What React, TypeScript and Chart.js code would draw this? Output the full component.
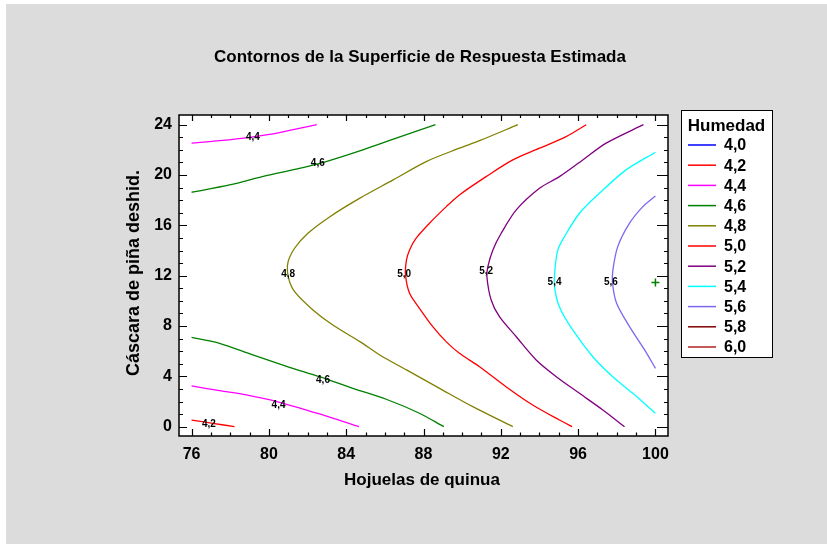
import React, { useEffect, useRef } from "react";
import { Chart, registerables } from "chart.js";

Chart.register(...registerables);

// ---- data ----
const chartTitle = "Contornos de la Superficie de Respuesta Estimada";
const xTitle = "Hojuelas de quinua";
const yTitle = "Cáscara de piña deshid.";
const legendTitle = "Humedad";
const xTicks = [76, 80, 84, 88, 92, 96, 100];
const yTicks = [0, 4, 8, 12, 16, 20, 24];

const levels = ["4,0", "4,2", "4,4", "4,6", "4,8", "5,0", "5,2", "5,4", "5,6", "5,8", "6,0"];
const levelColors = ["#0000ff", "#ff0000", "#ff00ff", "#008000", "#808000", "#ff0000", "#800080", "#00ffff", "#7b68ee", "#800000", "#b22222"];

const c42 = [[76, 0.53], [77.1, 0.27], [78.22, 0]];
const c44Low = [[76, 3.24], [77.45, 2.86], [78.83, 2.52], [80.55, 1.94], [82.62, 1.01], [84.66, 0]];
const c44High = [[76, 22.53], [77.45, 22.73], [79.0, 23.0], [80.55, 23.37], [82.48, 24]];
const c46Low = [[76, 7.1], [77.45, 6.63], [79.17, 5.7], [81.07, 4.72], [82.62, 3.97], [84.34, 3.05], [86.07, 2.18], [87.79, 1.07], [89.05, 0]];
const c46High = [[76, 18.63], [77.97, 19.21], [79.86, 19.95], [81.41, 20.46], [82.96, 21.07], [84.86, 22.0], [86.59, 22.93], [88.62, 24]];
const c48 = [[92.62, 0], [90.55, 1.59], [88.83, 3.05], [87.12, 4.51], [85.74, 5.7], [84.71, 6.76], [83.31, 8.08], [82.28, 9.28], [81.33, 10.73], [81.02, 11.8], [80.98, 13.0], [81.33, 14.18], [82.02, 15.37], [83.16, 16.69], [84.71, 18.16], [86.43, 19.61], [88.14, 21.07], [89.86, 22.13], [90.9, 22.73], [92.88, 24]];
const c50 = [[95.69, 0], [95.03, 0.53], [93.65, 1.72], [92.27, 3.18], [90.9, 4.77], [89.86, 5.83], [89.17, 6.76], [88.48, 7.95], [87.79, 9.41], [87.28, 10.6], [87.07, 12.06], [87.12, 13.25], [87.28, 14.05], [87.62, 14.98], [88.31, 16.17], [89.18, 17.49], [89.86, 18.42], [91.24, 19.87], [92.62, 21.2], [94.0, 22.13], [95.38, 23.05], [96.42, 24]];
const c52 = [[98.4, 0], [97.28, 1.33], [96.07, 2.65], [94.87, 3.97], [93.83, 5.3], [92.8, 7.15], [91.93, 8.74], [91.5, 10.07], [91.28, 11.92], [91.33, 12.72], [91.59, 14.05], [92.02, 15.37], [92.8, 17.23], [94.0, 18.95], [95.03, 19.87], [96.24, 21.2], [97.45, 22.53], [99.38, 24]];
const c54 = [[100, 1.07], [98.83, 2.65], [97.79, 3.97], [96.76, 5.56], [95.72, 7.69], [95.03, 9.54], [94.78, 11.13], [94.8, 12.46], [94.95, 14.05], [95.29, 15.1], [96.07, 16.96], [97.1, 18.55], [98.48, 20.41], [100, 21.81]];
const c56 = [[100, 4.64], [99.44, 6.1], [98.66, 7.95], [97.99, 9.81], [97.78, 11.4], [97.8, 12.46], [98.05, 14.31], [98.66, 16.17], [99.35, 17.49], [100, 18.34]];

// contour pieces: [points, level index]
const contours: [number[][], number][] = [
  [c42, 1], [c44Low, 2], [c44High, 2], [c46Low, 3], [c46High, 3],
  [c48, 4], [c50, 5], [c52, 6], [c54, 7], [c56, 8],
];

// contour labels in data coordinates
const contourLabels: [string, number, number][] = [
  ["4,2", 76.9, 0.21], ["4,4", 80.5, 1.67], ["4,6", 82.8, 3.66],
  ["4,4", 79.17, 23.0], ["4,6", 82.53, 20.94], ["4,8", 81.0, 12.14],
  ["5,0", 87.0, 12.14], ["5,2", 91.24, 12.38], ["5,4", 94.78, 11.45], ["5,6", 97.7, 11.45],
];

const optimum = [{ x: 100, y: 11.45 }];

const FONT = "'Liberation Sans', Arial, sans-serif";

export default function App() {
  const ref = useRef<HTMLCanvasElement>(null);

  useEffect(() => {
    document.body.style.margin = "0";
    const canvas = ref.current!;

    const decor = {
      id: "decor",
      beforeDraw(chart: any) {
        const { ctx, chartArea: a } = chart;
        ctx.save();
        ctx.fillStyle = "#ffffff";
        ctx.fillRect(0, 0, chart.width, chart.height);
        ctx.fillStyle = "#dcdcdc";
        ctx.fillRect(6, 4, chart.width - 6, chart.height - 4);
        ctx.fillStyle = "#ffffff";
        ctx.fillRect(a.left, a.top, a.right - a.left, a.bottom - a.top);
        ctx.restore();
      },
      afterDatasetsDraw(chart: any) {
        const { ctx } = chart;
        const xs = chart.scales.x;
        const ys = chart.scales.y;
        ctx.save();
        ctx.fillStyle = "#000";
        ctx.font = `bold 10px ${FONT}`;
        ctx.textAlign = "center";
        ctx.textBaseline = "middle";
        contourLabels.forEach(([t, x, y]) => {
          ctx.fillText(t, xs.getPixelForValue(x), ys.getPixelForValue(y));
        });
        ctx.restore();
      },
      afterDraw(chart: any) {
        const { ctx, chartArea: a } = chart;
        const xs = chart.scales.x;
        const ys = chart.scales.y;
        ctx.save();
        // frame
        ctx.strokeStyle = "#000";
        ctx.lineWidth = 1.5;
        ctx.strokeRect(a.left, a.top, a.right - a.left, a.bottom - a.top);
        // inner ticks
        ctx.lineWidth = 1.2;
        ctx.beginPath();
        for (let v = 76; v <= 100; v++) {
          const px = Math.round(xs.getPixelForValue(v)) + 0.5;
          const major = v % 4 === 0;
          const lb = major ? 7 : 3.5;
          const lt = major ? 6 : 3;
          ctx.moveTo(px, a.bottom);
          ctx.lineTo(px, a.bottom - lb);
          ctx.moveTo(px, a.top);
          ctx.lineTo(px, a.top + lt);
        }
        for (let v = 0; v <= 24; v++) {
          const py = Math.round(ys.getPixelForValue(v)) + 0.5;
          const major = v % 4 === 0;
          const ll = major ? 8 : 4;
          const lr = major ? 11 : 4;
          ctx.moveTo(a.left, py);
          ctx.lineTo(a.left + ll, py);
          ctx.moveTo(a.right, py);
          ctx.lineTo(a.right - lr, py);
        }
        ctx.stroke();

        // titles
        ctx.fillStyle = "#000";
        ctx.textAlign = "center";
        ctx.textBaseline = "middle";
        ctx.font = `bold 17px ${FONT}`;
        ctx.fillText(chartTitle, 420, 57);
        ctx.fillText(xTitle, 422, 480);
        ctx.save();
        ctx.font = `bold 18px ${FONT}`;
        ctx.translate(134, 273);
        ctx.rotate(-Math.PI / 2);
        ctx.fillText(yTitle, 0, 0);
        ctx.restore();

        // legend
        const lx = a.right + 13;
        const ly = a.top - 5;
        const lw = 91;
        const lh = 247;
        ctx.fillStyle = "#fff";
        ctx.fillRect(lx, ly, lw, lh);
        ctx.strokeStyle = "#000";
        ctx.lineWidth = 1;
        ctx.strokeRect(lx + 0.5, ly + 0.5, lw, lh);
        ctx.fillStyle = "#000";
        ctx.font = `bold 17px ${FONT}`;
        ctx.textAlign = "center";
        ctx.fillText(legendTitle, lx + lw / 2, ly + 16);
        ctx.font = `bold 16px ${FONT}`;
        ctx.textAlign = "left";
        levels.forEach((lab, i) => {
          const y = ly + 35 + i * 20.2;
          ctx.strokeStyle = levelColors[i];
          ctx.lineWidth = 1.5;
          ctx.beginPath();
          ctx.moveTo(lx + 7, y);
          ctx.lineTo(lx + 35, y);
          ctx.stroke();
          ctx.fillStyle = "#000";
          ctx.fillText(lab, lx + 43, y + 1);
        });
        ctx.restore();
      },
    };

    const datasets: any[] = contours.map(([pts, li]) => ({
      data: pts.map(([x, y]) => ({ x, y })),
      showLine: true,
      borderColor: levelColors[li],
      borderWidth: 1.3,
      pointRadius: 0,
      fill: false,
      tension: 0.3,
    }));
    datasets.push({
      data: optimum,
      showLine: false,
      pointStyle: "cross",
      pointRadius: 4,
      borderColor: "#008000",
      borderWidth: 1.5,
    });

    const tickFont = { family: FONT, size: 16, weight: "bold" as const };

    const chart = new Chart(canvas, {
      type: "scatter",
      data: { datasets },
      options: {
        animation: false,
        responsive: false,
        devicePixelRatio: 1,
        layout: { padding: { left: 0, top: 115, right: 159, bottom: 0 } },
        plugins: { legend: { display: false }, tooltip: { enabled: false }, title: { display: false } },
        scales: {
          x: {
            type: "linear",
            min: 75.35,
            max: 100.65,
            afterBuildTicks: (s: any) => { s.ticks = xTicks.map((v) => ({ value: v })); },
            afterFit: (s: any) => { s.height = 108; },
            grid: { display: false, drawTicks: false },
            border: { display: false },
            ticks: { font: tickFont, color: "#000", padding: 9, maxRotation: 0, autoSkip: false, callback: (v: any) => String(v) },
          },
          y: {
            type: "linear",
            min: -0.74,
            max: 24.77,
            afterBuildTicks: (s: any) => { s.ticks = yTicks.map((v) => ({ value: v })); },
            afterFit: (s: any) => { s.width = 179; },
            grid: { display: false, drawTicks: false },
            border: { display: false },
            ticks: { font: tickFont, color: "#000", padding: 7, autoSkip: false, callback: (v: any) => String(v) },
          },
        },
      },
      plugins: [decor],
    });
    return () => chart.destroy();
  }, []);

  return (
    <div style={{ position: "absolute", left: 0, top: 0, width: 827, height: 544 }}>
      <canvas ref={ref} width={827} height={544} style={{ width: 827, height: 544, display: "block" }} />
    </div>
  );
}
